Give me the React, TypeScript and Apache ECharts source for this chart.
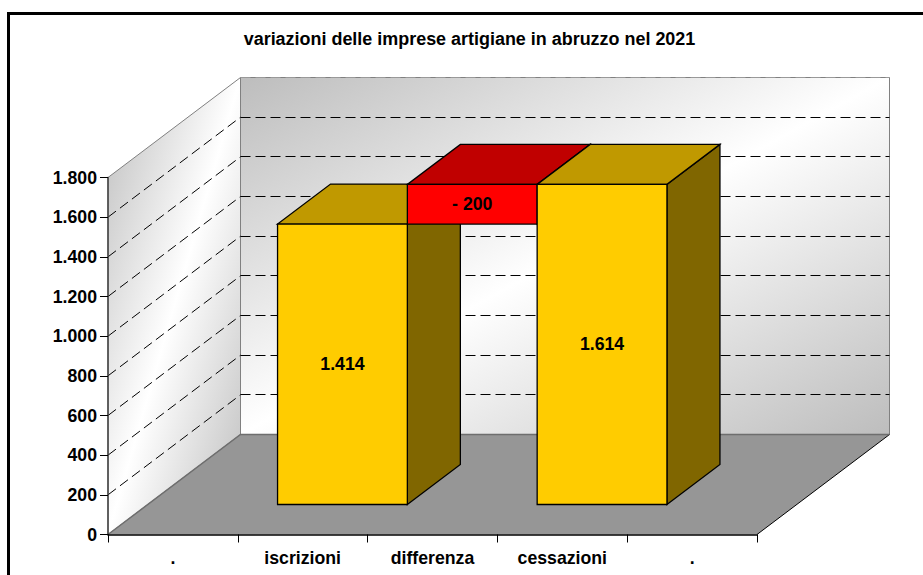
import React, { useEffect, useRef } from "react";
import * as echarts from "echarts";

const titleText = "variazioni delle imprese artigiane in abruzzo nel 2021";
const categories = [".", "iscrizioni", "differenza", "cessazioni", "."];
const gridTicks = [200, 400, 600, 800, 1000, 1200, 1400, 1600, 1800];
const barCategoryIndex = [1, 2, 3];
const barBase = [0, 1414, 0];
const barTop = [1414, 1614, 1614];
const barLabels = ["1.414", "- 200", "1.614"];
const barKinds = ["y", "r", "y"];

const DX = 132.5;
const DY = -100;
const FONT = '"Liberation Sans", Arial, sans-serif';
const FS = 17.7;
const palette: any = {
  y: { front: "#ffcc00", top: "#c09900", side: "#806600" },
  r: { front: "#ff0000", top: "#c00000", side: "#800000" },
};
const stops = [
  { offset: 0, color: "#bdbdbd" },
  { offset: 0.5, color: "#ffffff" },
  { offset: 1, color: "#bdbdbd" },
];

function diagonalGradient(x0: number, y0: number, w: number, h: number) {
  // isolines parallel to the bounding box's other diagonal
  const t = (2 * w * h) / (h * h + w * w);
  return new echarts.graphic.LinearGradient(x0, y0, x0 + h * t, y0 + w * t, stops, true);
}

function fmt(v: number) {
  return String(v).replace(/\B(?=(\d{3})+$)/g, ".");
}

export default function App() {
  const ref = useRef<HTMLDivElement>(null);
  useEffect(() => {
    document.body.style.margin = "0";
    const chart = echarts.init(ref.current!, undefined, { renderer: "svg" });
    chart.setOption({
      animation: false,
      backgroundColor: "#ffffff",
      title: {
        text: titleText,
        left: 464.5,
        top: 25,
        textAlign: "center",
        textStyle: { fontFamily: FONT, fontSize: 17.95, fontWeight: "bold", color: "#000" },
      },
      graphic: [
        {
          type: "rect",
          shape: { x: 8.5, y: 13.5, width: 940, height: 600 },
          style: { fill: "none", stroke: "#000", lineWidth: 3 },
          silent: true,
          z: 50,
        },
      ],
      grid: { left: 108, top: 177.5, width: 649, height: 357 },
      xAxis: {
        type: "category",
        data: categories,
        z: 10,
        axisLine: { lineStyle: { color: "#000", width: 1.5 } },
        axisTick: { show: true, length: 8, alignWithLabel: false, lineStyle: { color: "#000" } },
        axisLabel: {
          fontFamily: FONT,
          fontSize: FS,
          fontWeight: "bold",
          color: "#000",
          margin: 14,
          interval: 0,
        },
      },
      yAxis: {
        type: "value",
        min: 0,
        max: 1800,
        interval: 200,
        z: 10,
        splitLine: { show: false },
        axisLine: { show: true, lineStyle: { color: "#404040", width: 1.5 } },
        axisTick: { show: true, length: 8, lineStyle: { color: "#000" } },
        axisLabel: {
          fontFamily: FONT,
          fontSize: FS,
          fontWeight: "bold",
          color: "#000",
          margin: 11,
          formatter: (v: number) => fmt(v),
        },
      },
      series: [
        {
          type: "custom",
          name: "walls",
          silent: true,
          clip: false,
          data: [[0, 0]],
          renderItem: (p: any, api: any) => {
            const g = p.coordSys;
            const L = g.x, R = g.x + g.width, T = g.y, B = g.y + g.height;
            const border = "#808080";
            return {
              type: "group",
              children: [
                {
                  type: "polygon",
                  shape: { points: [[L + DX, T + DY], [R + DX, T + DY], [R + DX, B + DY], [L + DX, B + DY]] },
                  style: { fill: diagonalGradient(L + DX, T + DY, g.width, g.height), stroke: border, lineWidth: 1 },
                },
                {
                  type: "polygon",
                  shape: { points: [[L, T], [L + DX, T + DY], [L + DX, B + DY], [L, B]] },
                  style: { fill: diagonalGradient(L, T + DY, DX, g.height - DY), stroke: border, lineWidth: 1 },
                },
                {
                  type: "polygon",
                  shape: { points: [[L, B], [R, B], [R + DX, B + DY], [L + DX, B + DY]] },
                  style: { fill: "#969696", stroke: "none" },
                },
                {
                  type: "polyline",
                  shape: { points: [[R, B], [R + DX, B + DY]] },
                  style: { fill: "none", stroke: "#000", lineWidth: 1 },
                },
                {
                  type: "polyline",
                  shape: { points: [[L, B], [L + DX, B + DY], [R + DX, B + DY]] },
                  style: { fill: "none", stroke: "#6e6e6e", lineWidth: 1.5 },
                },
              ],
            };
          },
        },
        {
          type: "custom",
          name: "griglia",
          silent: true,
          clip: false,
          data: gridTicks.map((v) => [0, v]),
          renderItem: (p: any, api: any) => {
            const g = p.coordSys;
            const y = api.coord([0, api.value(1)])[1];
            const L = g.x, R = g.x + g.width;
            const dash = { stroke: "#000", lineWidth: 1, lineDash: [10, 5], fill: "none" };
            const top = api.value(1) === gridTicks[gridTicks.length - 1];
            const yBack = Math.floor(y + DY) + 0.5;
            return {
              type: "group",
              children: [
                {
                  type: "polyline",
                  shape: { points: [[L + DX, yBack], [R + DX, yBack]] },
                  style: { ...dash, stroke: top ? "#999999" : "#000" },
                },
                ...(top
                  ? []
                  : [
                      {
                        type: "polyline",
                        shape: { points: [[L, y], [L + DX, y + DY]] },
                        style: dash,
                      },
                    ]),
              ],
            };
          },
        },
        {
          type: "custom",
          name: "barre",
          silent: true,
          clip: false,
          data: barCategoryIndex.map((c, i) => [c, barBase[i], barTop[i], i]),
          renderItem: (p: any, api: any) => {
            const i = api.value(3);
            const x = api.coord([api.value(0), 0])[0];
            const w = api.size([1, 0])[0];
            const y0 = api.coord([0, api.value(1)])[1];
            const y1 = api.coord([0, api.value(2)])[1];
            // the bars stand 30%..70% of the way into the floor's depth
            const fx = DX * 0.3, fy = DY * 0.3, bx = DX * 0.4, by = DY * 0.4;
            const x0 = x - w / 2 + fx;
            const x2 = x + w / 2 + fx;
            const yB = y0 + fy;
            const yT = y1 + fy;
            const c = palette[barKinds[i]];
            const edge = { stroke: "#000", lineWidth: 1.3 };
            return {
              type: "group",
              children: [
                {
                  type: "polygon",
                  shape: { points: [[x2, yB], [x2 + bx, yB + by], [x2 + bx, yT + by], [x2, yT]] },
                  style: { fill: c.side, ...edge },
                },
                {
                  type: "polygon",
                  shape: { points: [[x0, yT], [x2, yT], [x2 + bx, yT + by], [x0 + bx, yT + by]] },
                  style: { fill: c.top, ...edge },
                },
                {
                  type: "polygon",
                  shape: { points: [[x0, yB], [x2, yB], [x2, yT], [x0, yT]] },
                  style: { fill: c.front, ...edge },
                },
                {
                  type: "text",
                  x: (x0 + x2) / 2,
                  y: (yB + yT) / 2,
                  style: {
                    text: barLabels[i],
                    fill: "#000",
                    font: `bold ${FS}px ${FONT}`,
                    align: "center",
                    verticalAlign: "middle",
                  },
                },
              ],
            };
          },
        },
      ],
    });
    return () => chart.dispose();
  }, []);
  return <div ref={ref} style={{ width: 923, height: 575 }} />;
}
